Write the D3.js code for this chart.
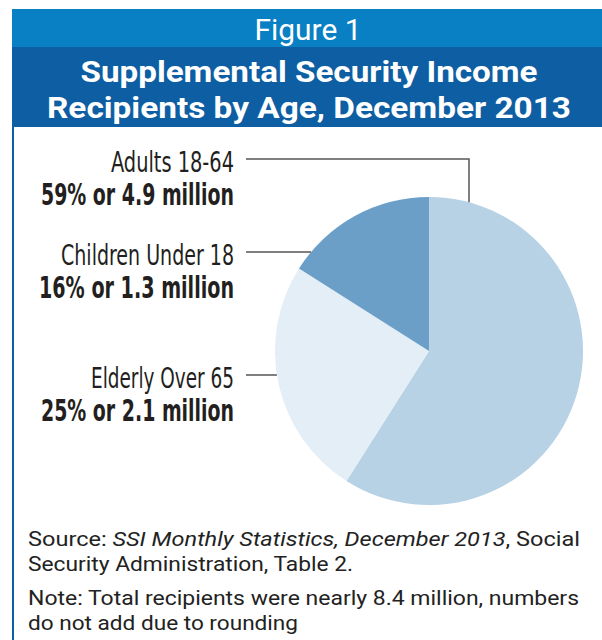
<!DOCTYPE html>
<html>
<head>
<meta charset="utf-8">
<script src="https://cdn.jsdelivr.net/npm/d3@7"></script>
<style>
  html, body { margin: 0; padding: 0; background: #fff; }
  svg { display: block; }
</style>
</head>
<body>
<div id="chart"></div>
<script>
// Data (pie order, clockwise from 12 o'clock)
const categories = ['Adults 18-64', 'Elderly Over 65', 'Children Under 18'];
const percents = [59, 25, 16];
const millions = [4.9, 2.1, 1.3];
const sliceColors = ['#b7d2e5', '#e4eef6', '#6b9fc8'];

const width = 602, height = 640;
const cx = 429, cy = 351, radius = 154;

const svg = d3.select('#chart').append('svg')
  .attr('width', width)
  .attr('height', height);

// Banner
svg.append('rect').attr('x', 12).attr('y', 9).attr('width', width - 12).attr('height', 38).attr('fill', '#0a80c4');
svg.append('rect').attr('x', 12).attr('y', 47).attr('width', width - 12).attr('height', 80).attr('fill', '#0e5ea3');
svg.append('rect').attr('x', 12).attr('y', 127).attr('width', 2).attr('height', height - 127).attr('fill', '#0e5ea3');

const headFont = 'Roboto, "Open Sans", sans-serif';
svg.append('text')
  .attr('x', 308).attr('y', 40)
  .attr('text-anchor', 'middle')
  .attr('fill', '#fff')
  .style('font-family', headFont)
  .style('font-size', '29px')
  .attr('textLength', 107).attr('lengthAdjust', 'spacingAndGlyphs')
  .text('Figure 1');

const titleLines = ['Supplemental Security Income', 'Recipients by Age, December 2013'];
const titleWidths = [457, 524];
svg.selectAll('.title')
  .data(titleLines)
  .enter().append('text')
  .attr('class', 'title')
  .attr('x', 309)
  .attr('y', (d, i) => 82 + i * 36)
  .attr('text-anchor', 'middle')
  .attr('fill', '#fff')
  .style('font-family', headFont)
  .style('font-weight', '700')
  .style('font-size', '30px')
  .attr('textLength', (d, i) => titleWidths[i]).attr('lengthAdjust', 'spacingAndGlyphs')
  .text(d => d);

// Pie
const pie = d3.pie().sort(null).value(d => d);
const arc = d3.arc().innerRadius(0).outerRadius(radius);
const g = svg.append('g').attr('transform', `translate(${cx},${cy})`);
g.selectAll('path')
  .data(pie(percents))
  .enter().append('path')
  .attr('d', arc)
  .attr('fill', (d, i) => sliceColors[i]);

// Labels and leader lines (same order as categories)
const labelFont = '"Liberation Sans Narrow", "DejaVu Sans Condensed", sans-serif';
const labelY = [159, 375, 252];
const nameWidths = [123, 143, 173];
const valueWidths = [193, 193, 195];
const labelX = 234;

categories.forEach((name, i) => {
  const y = labelY[i];
  svg.append('text')
    .attr('x', labelX).attr('y', y + 13)
    .attr('text-anchor', 'end')
    .attr('fill', '#231f20')
    .style('font-family', labelFont)
    .style('font-size', '29px')
    .attr('textLength', nameWidths[i]).attr('lengthAdjust', 'spacingAndGlyphs')
    .text(name);
  svg.append('text')
    .attr('x', labelX).attr('y', y + 46)
    .attr('text-anchor', 'end')
    .attr('fill', '#231f20')
    .style('font-family', labelFont)
    .style('font-weight', '700')
    .style('font-size', '30px')
    .attr('textLength', valueWidths[i]).attr('lengthAdjust', 'spacingAndGlyphs')
    .text(`${percents[i]}% or ${millions[i]} million`);
});

// leader lines: adults goes right then drops onto the pie; others run straight to the rim
const lineColor = '#555';
const dropX = 469;
const dropY = cy - Math.sqrt(radius * radius - (dropX - cx) * (dropX - cx));
svg.append('path')
  .attr('d', `M246,${labelY[0]}H${dropX}V${dropY}`)
  .attr('fill', 'none').attr('stroke', lineColor).attr('stroke-width', 1.5);
[1, 2].forEach(i => {
  const y = labelY[i];
  const xr = cx - Math.sqrt(radius * radius - (y - cy) * (y - cy));
  svg.append('line')
    .attr('x1', 246).attr('x2', xr)
    .attr('y1', y).attr('y2', y)
    .attr('stroke', lineColor).attr('stroke-width', 1.5);
});

// Footer
const footFont = 'Roboto, "Open Sans", sans-serif';
const foot = svg.append('g')
  .style('font-family', footFont)
  .style('font-size', '20px')
  .attr('fill', '#222');
const s1 = foot.append('text').attr('x', 28).attr('y', 546)
  .attr('textLength', 552).attr('lengthAdjust', 'spacingAndGlyphs');
s1.append('tspan').text('Source: ');
s1.append('tspan').style('font-style', 'italic').text('SSI Monthly Statistics, December 2013');
s1.append('tspan').text(', Social');
foot.append('text').attr('x', 28).attr('y', 571)
  .attr('textLength', 325).attr('lengthAdjust', 'spacingAndGlyphs')
  .text('Security Administration, Table 2.');
foot.append('text').attr('x', 28).attr('y', 605)
  .attr('textLength', 551).attr('lengthAdjust', 'spacingAndGlyphs')
  .text('Note: Total recipients were nearly 8.4 million, numbers');
foot.append('text').attr('x', 28).attr('y', 630)
  .attr('textLength', 270).attr('lengthAdjust', 'spacingAndGlyphs')
  .text('do not add due to rounding');
</script>
</body>
</html>
